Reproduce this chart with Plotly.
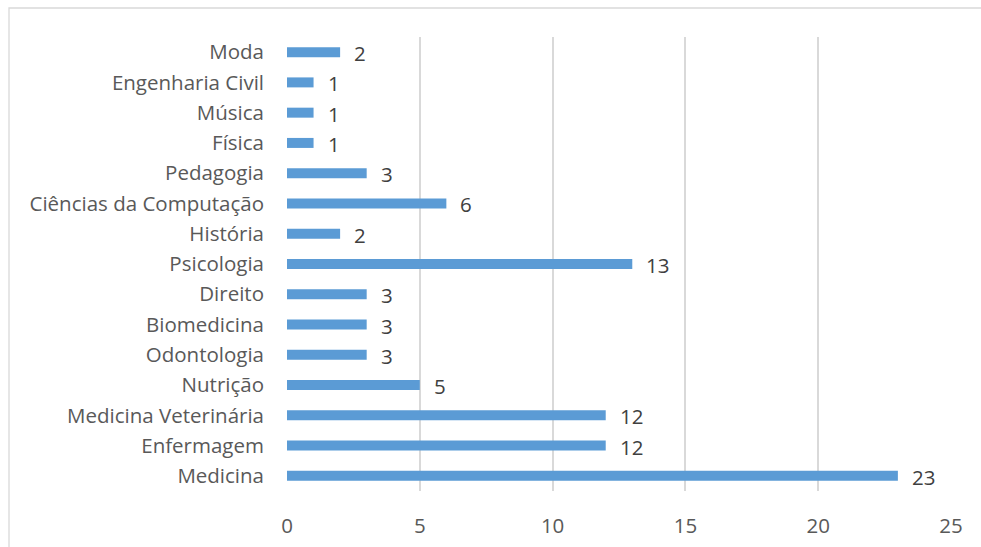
import plotly.graph_objects as go

# Number of people per field of study (bottom to top)
cursos = ["Medicina", "Enfermagem", "Medicina Veterinária", "Nutrição", "Odontologia",
          "Biomedicina", "Direito", "Psicologia", "História", "Ciências da Computação",
          "Pedagogia", "Física", "Música", "Engenharia Civil", "Moda"]
quantidade = [23, 12, 12, 5, 3, 3, 3, 13, 2, 6, 3, 1, 1, 1, 2]
x_ticks = [0, 5, 10, 15, 20, 25]

FONT = "Open Sans"
BAR = "#5B9BD5"

fig = go.Figure()
fig.add_trace(go.Bar(
    x=quantidade, y=cursos, orientation="h",
    marker=dict(color=BAR, line=dict(width=0)),
    width=0.33,
    hoverinfo="x+y",
))

# value labels to the right of each bar
for c, v in zip(cursos, quantidade):
    fig.add_annotation(x=v, y=c, text=str(v), showarrow=False,
                       xanchor="left", xshift=12, yshift=-1,
                       font=dict(family=FONT, size=20.5, color="#404040"))

# outer chart frame
fig.add_shape(type="rect", xref="paper", yref="paper",
              x0=-278 / 664, x1=1.5, y0=-1.0, y1=1 + 29 / 454,
              line=dict(color="#D9D9D9", width=1.3), layer="below")

fig.update_layout(
    width=981, height=547,
    margin=dict(l=287, r=30, t=37, b=56, autoexpand=False),
    paper_bgcolor="white", plot_bgcolor="white",
    showlegend=False,
    font=dict(family=FONT, size=20.5, color="#595959"),
    xaxis=dict(range=[0, 25], tickvals=x_ticks, showgrid=True,
               gridcolor="#D9D9D9", gridwidth=2, zeroline=False,
               showline=False, ticks="outside", ticklen=16,
               tickcolor="rgba(0,0,0,0)", fixedrange=True,
               automargin=False),
    yaxis=dict(categoryorder="array", categoryarray=cursos,
               range=[-0.5, len(cursos) - 0.5], showgrid=False,
               zeroline=False, showline=False, ticks="",
               ticklabelstandoff=22, fixedrange=True,
               automargin=False),
)

fig.write_html("out.html")
